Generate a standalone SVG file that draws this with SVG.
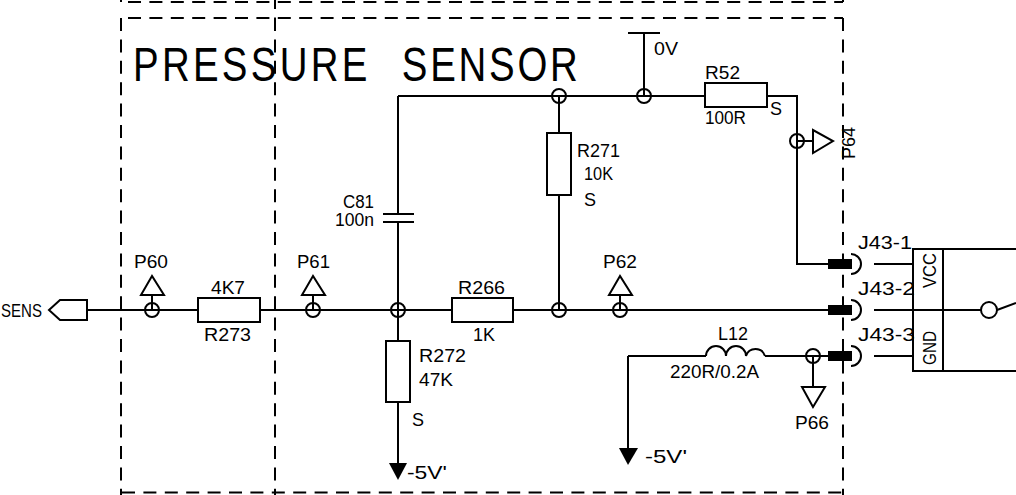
<svg xmlns="http://www.w3.org/2000/svg" width="1016" height="495" viewBox="0 0 1016 495">
<style>
.w{fill:none;stroke:#000;stroke-width:2}
.d{fill:none;stroke:#000;stroke-width:2;stroke-dasharray:13 8.4}
.b{fill:#fff;stroke:#000;stroke-width:2}
.f{fill:#000;stroke:none}
text{font-family:"Liberation Sans",Arial,sans-serif;font-size:18px;fill:#000}
.t{font-size:48px}
</style>
<rect width="1016" height="495" fill="#fff"/>
<g id="frames">
<path class="d" d="M128 2H843M128 18H843M122 492.5H843"/>
<path class="d" d="M121 18V495M275 18V495M843 18V495M275 -4V18M121 -9V2M843 -9V2"/>
</g>
<g id="connectors">
<path class="w" d="M88 310H830M398 96V310M398 310V341M398 402V465M398 96H705M767 96H797V264H830M559 96V133M559 195V310M644 33V96M628 33H660M628 356V450M628 356H706M765 356H830M874 264H913M874 310H981M874 356H913M813 356V387M797 141H813M152 295V310M313 295V310M620 295V310"/>
</g>
<g id="title"><g transform="translate(133 81) scale(.8 1)"><text class="t" textLength="293" lengthAdjust="spacing">PRESSURE</text><text class="t" x="336" textLength="220" lengthAdjust="spacing">SENSOR</text></g></g>
<g id="SENS"><path class="b" d="M87 300H60L49 310L60 320H87Z"/><text x="1" y="317" textLength="41" lengthAdjust="spacingAndGlyphs">SENS</text></g>
<g id="P60"><circle class="w" cx="152" cy="310" r="7"/><path class="b" d="M152 276L141 295H164Z"/><text x="134" y="268" textLength="34" lengthAdjust="spacingAndGlyphs">P60</text></g>
<g id="R273"><rect class="b" x="198" y="298" width="62" height="24"/><text x="211" y="294" textLength="34" lengthAdjust="spacingAndGlyphs">4K7</text><text x="204" y="341" textLength="47" lengthAdjust="spacingAndGlyphs">R273</text></g>
<g id="P61"><circle class="w" cx="313" cy="310" r="7"/><path class="b" d="M313 276L302 295H325Z"/><text x="297" y="268" textLength="33" lengthAdjust="spacingAndGlyphs">P61</text></g>
<g id="C81"><path class="b" d="M383 214H414M383 222H414"/><rect x="384" y="215" width="29" height="6" fill="#fff"/><text x="343" y="208" textLength="31" lengthAdjust="spacingAndGlyphs">C81</text><text x="335" y="226" textLength="39" lengthAdjust="spacingAndGlyphs">100n</text></g>
<g id="J1"><circle class="w" cx="398" cy="310" r="7"/></g>
<g id="R272"><rect class="b" x="386" y="341" width="24" height="61"/><text x="419" y="362" textLength="47" lengthAdjust="spacingAndGlyphs">R272</text><text x="419" y="386" textLength="34" lengthAdjust="spacingAndGlyphs">47K</text><text x="412" y="426">S</text></g>
<g id="gnd1"><path class="f" d="M389 463H407L398 480Z"/><text x="407" y="479" textLength="40" lengthAdjust="spacingAndGlyphs">-5V'</text></g>
<g id="R266"><rect class="b" x="452" y="298" width="61" height="24"/><text x="458" y="294" textLength="47" lengthAdjust="spacingAndGlyphs">R266</text><text x="473" y="341">1K</text></g>
<g id="J2"><circle class="w" cx="559" cy="310" r="7"/></g>
<g id="R271"><rect class="b" x="547" y="133" width="24" height="62"/><text x="577" y="157" textLength="43" lengthAdjust="spacingAndGlyphs">R271</text><text x="584" y="180" textLength="29" lengthAdjust="spacingAndGlyphs">10K</text><text x="584" y="206">S</text></g>
<g id="J3"><circle class="w" cx="559" cy="96" r="7"/></g>
<g id="V0"><circle class="w" cx="644" cy="96" r="7"/><text x="654" y="55" textLength="24" lengthAdjust="spacingAndGlyphs">0V</text></g>
<g id="R52"><rect class="b" x="705" y="83" width="62" height="24"/><text x="705" y="79" textLength="35" lengthAdjust="spacingAndGlyphs">R52</text><text x="705" y="124" textLength="41" lengthAdjust="spacingAndGlyphs">100R</text><text x="770" y="115">S</text></g>
<g id="P62"><circle class="w" cx="620" cy="310" r="7"/><path class="b" d="M620 276L609 295H632Z"/><text x="603" y="268" textLength="34" lengthAdjust="spacingAndGlyphs">P62</text></g>
<g id="P64"><circle class="w" cx="797" cy="141" r="7"/><path class="b" d="M813 130V153L833 141Z"/><text transform="translate(855 159) rotate(-90)" textLength="32" lengthAdjust="spacingAndGlyphs">P64</text></g>
<g id="L12"><path class="w" d="M706 356A10 10 0 0 1 726 356A10 10 0 0 1 746 356A10 10 0 0 1 765 356"/><text x="718" y="340" textLength="30" lengthAdjust="spacingAndGlyphs">L12</text><text x="670" y="378" textLength="89" lengthAdjust="spacingAndGlyphs">220R/0.2A</text></g>
<g id="gnd2"><path class="f" d="M619 448H638L628 465Z"/><text x="645" y="463" textLength="42" lengthAdjust="spacingAndGlyphs">-5V'</text></g>
<g id="P66"><circle class="w" cx="813" cy="356" r="7"/><path class="b" d="M802 387H825L813 407Z"/><text x="795" y="429" textLength="34" lengthAdjust="spacingAndGlyphs">P66</text></g>
<g id="J43"><rect class="f" x="828" y="259" width="24" height="10"/><rect class="f" x="828" y="305" width="24" height="10"/><rect class="f" x="828" y="351" width="24" height="10"/>
<path class="w" d="M851 254A10 10 0 0 1 851 274M851 300A10 10 0 0 1 851 320M851 346A10 10 0 0 1 851 366"/>
<text x="858" y="249" textLength="54" lengthAdjust="spacingAndGlyphs">J43-1</text><text x="858" y="295" textLength="57" lengthAdjust="spacingAndGlyphs">J43-2</text><text x="858" y="341" textLength="57" lengthAdjust="spacingAndGlyphs">J43-3</text></g>
<g id="sensor"><path class="w" d="M1016 249H913V371H1016M943 249V371M997 310L1016 303"/><circle class="w" cx="989" cy="310" r="8"/><text transform="translate(936 288) rotate(-90)" textLength="35" lengthAdjust="spacingAndGlyphs">VCC</text><text transform="translate(936 365) rotate(-90)" textLength="34" lengthAdjust="spacingAndGlyphs">GND</text></g>
</svg>
